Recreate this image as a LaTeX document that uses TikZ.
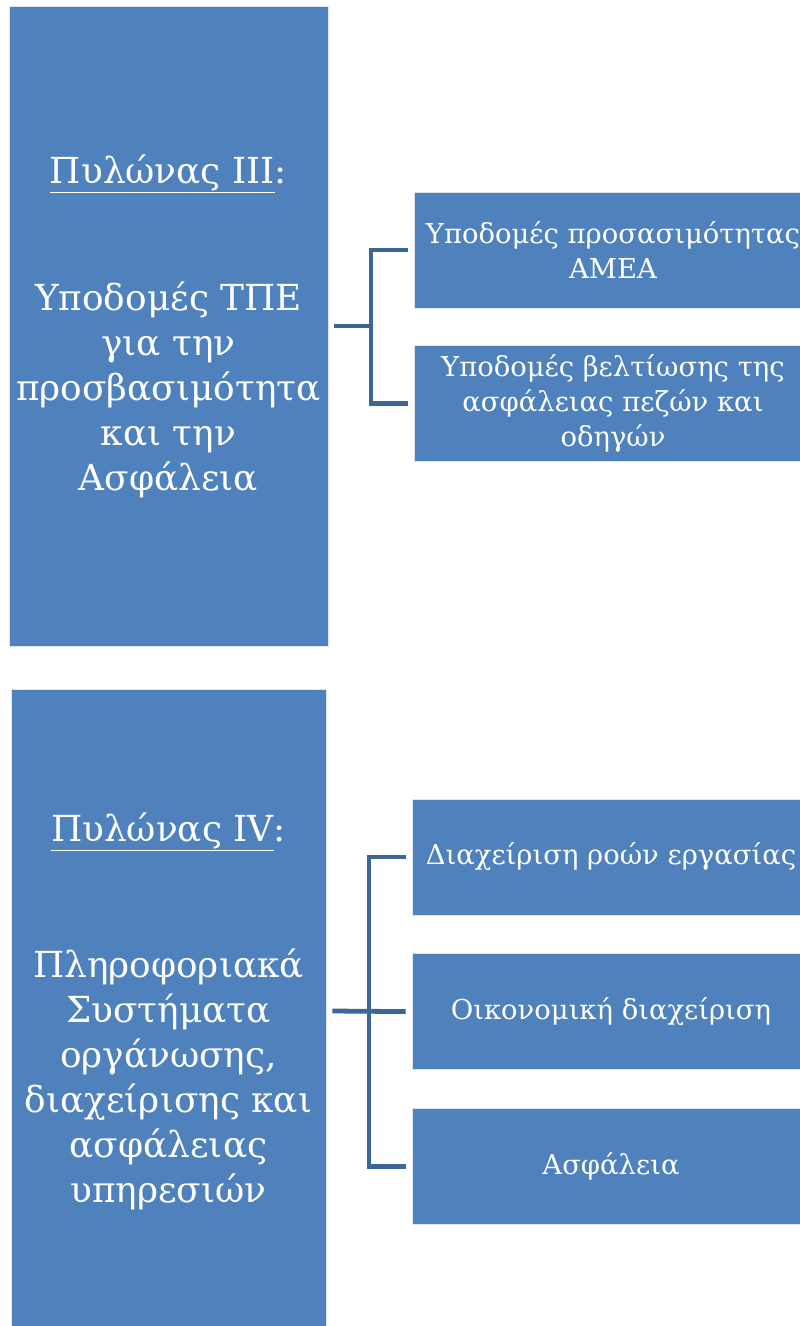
\documentclass[tikz,border=0pt]{standalone}
\usepackage{fontspec}
\setmainfont{DejaVu Serif}
\usetikzlibrary{positioning}
\definecolor{boxblue}{HTML}{4F81BD}
\definecolor{linkblue}{HTML}{3D6698}

\begin{document}
\begin{tikzpicture}[
            x = 0.025cm, y = -0.025cm, % one unit = one pixel of the layout
            node distance = 0.925cm, % gap between item boxes
        ]

        \tikzstyle{pillar}=[
            draw = white!80!boxblue,
            thin,
            fill = boxblue,
            text = white,
            align = center,
            font = \fontsize{25.5}{32}\selectfont
        ]
        \tikzstyle{item}=[
            draw = white!80!boxblue,
            thin,
            fill = boxblue,
            text = white,
            align = center,
            minimum width = 9.95cm,
            minimum height = 2.9cm,
            font = \fontsize{19.5}{24.9}\selectfont
        ]
        \tikzstyle{link}=[draw = linkblue, line width = 3.4pt]

        \useasboundingbox (0,0) rectangle (800,1326);
        \clip (0,0) rectangle (800,1326);

        % pillar III
        \node[pillar, minimum width = 7.975cm, minimum height = 16cm] (p3) at (168.5,326)
            {\underline{Πυλώνας III}:\\[2.05cm]Υποδομές ΤΠΕ\\για την\\προσβασιμότητα\\και την\\Ασφάλεια};
        \node[item] (s1) at (613,250) {Υποδομές προσασιμότητας\\ΑΜΕΑ};
        \node[item, below = of s1] (s2) {Υποδομές βελτίωσης της\\ασφάλειας πεζών και\\οδηγών};
        \coordinate (j3) at (371,326);

        \draw[link] ([xshift=0.15cm]p3.east) -- (j3);
        \draw[link] ([xshift=-0.15cm]s1.west) -| (j3 |- s2.west) -- ([xshift=-0.15cm]s2.west);

        % pillar IV
        \node[pillar, minimum width = 7.875cm, minimum height = 16.1cm] (p4) at (168.5,1011)
            {\underline{Πυλώνας IV}:\\[2.275cm]Πληροφοριακά\\Συστήματα\\οργάνωσης,\\διαχείρισης και\\ασφάλειας\\υπηρεσιών};
        \node[item] (t1) at (611,857) {Διαχείριση ροών εργασίας};
        \node[item, below = 0.95cm of t1] (t2) {Οικονομική διαχείριση};
        \node[item, below = 0.95cm of t2] (t3) {Ασφάλεια};
        \coordinate (j4) at (369,1011);

        \draw[link] ([xshift=0.15cm]p4.east) -- ([xshift=-0.15cm]t2.west);
        \draw[link] ([xshift=-0.15cm]t1.west) -| (j4) |- ([xshift=-0.15cm]t3.west);

\end{tikzpicture}
\end{document}
